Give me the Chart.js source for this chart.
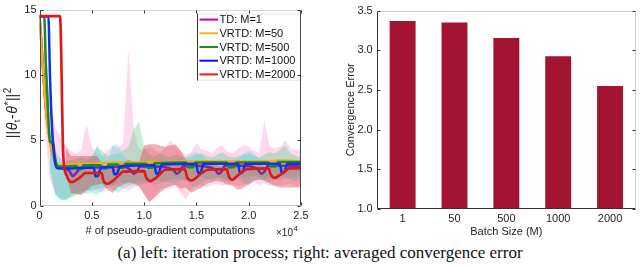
<!DOCTYPE html>
<html><head><meta charset="utf-8">
<script src="https://cdn.jsdelivr.net/npm/chart.js@4.4.1/dist/chart.umd.min.js"></script>
<style>
html,body{margin:0;padding:0;background:#fff;}
#wrap{position:relative;width:640px;height:267px;overflow:hidden;background:#fff;}
#c1{position:absolute;left:0;top:0;}
#c2{position:absolute;left:320px;top:0;}
#cap{position:absolute;left:0;top:243px;width:640px;text-align:center;font-family:'Liberation Serif','Times New Roman',serif;font-size:17px;line-height:19px;color:#111;white-space:nowrap;}
</style></head><body>
<div id="wrap">
<canvas id="c1" width="320" height="240"></canvas>
<canvas id="c2" width="320" height="240"></canvas>
<div id="cap">(a) left: iteration process; right: averaged convergence error</div>
</div>
<script>
// ================= DATA =================
// left panel: x in units of 10^4 pseudo-gradient computations
const xTickVals = [0, 0.5, 1, 1.5, 2, 2.5];
const yTickValsL = [0, 5, 10, 15];
const seriesLabels = ['TD: M=1', 'VRTD: M=50', 'VRTD: M=500', 'VRTD: M=1000', 'VRTD: M=2000'];

const tdX = [0, 0.03, 0.06, 0.1, 0.14, 0.18, 0.24, 0.29, 0.32, 0.35, 0.39, 0.45, 0.6, 0.8, 0.87, 0.9, 0.93, 0.96, 1.1, 1.28, 1.31, 1.34, 1.37, 1.5, 1.68, 1.71, 1.74, 1.77, 1.95, 2.09, 2.12, 2.15, 2.18, 2.5];
const tdY = [14.5, 11, 7.5, 5.0, 3.6, 3.0, 2.9, 2.6, 2.25, 2.5, 2.85, 2.9, 2.95, 3.0, 2.75, 2.45, 2.6, 3.0, 3.0, 2.75, 2.45, 2.6, 3.0, 3.05, 2.75, 2.45, 2.6, 3.05, 3.05, 2.75, 2.45, 2.6, 3.05, 3.05];

const m50X = [0, 0.02, 0.05, 0.08, 0.1, 0.13, 0.17, 0.22, 0.3, 0.5, 0.7, 0.9, 1.1, 1.3, 1.5, 1.7, 1.9, 2.1, 2.3, 2.5];
const m50Y = [14.5, 12, 8.5, 6, 4.8, 3.8, 3.1, 3.05, 3.15, 3.2, 3.3, 3.3, 3.35, 3.35, 3.4, 3.4, 3.4, 3.4, 3.45, 3.4];

const m500X = [0, 0.045, 0.06, 0.08, 0.1, 0.13, 0.15, 0.18, 0.25, 0.35, 0.37, 0.4, 0.42, 0.58, 0.6, 0.64, 0.66, 0.75, 0.77, 0.8, 0.82, 1.02, 1.04, 1.08, 1.1, 1.4, 1.42, 1.47, 1.49, 1.79, 1.81, 1.86, 1.88, 2.19, 2.21, 2.26, 2.28, 2.5];
const m500Y = [14.5, 14.5, 11, 7.5, 4.9, 4.8, 3.6, 3.0, 3.0, 3.05, 2.8, 2.8, 3.1, 3.1, 2.85, 2.85, 3.15, 3.15, 2.9, 2.9, 3.2, 3.2, 2.9, 2.9, 3.25, 3.3, 2.95, 2.95, 3.3, 3.3, 2.95, 2.95, 3.3, 3.3, 3.0, 3.0, 3.35, 3.35];

const m1000X = [0, 0.085, 0.1, 0.12, 0.14, 0.165, 0.2, 0.3, 0.45, 0.52, 0.535, 0.56, 0.59, 0.7, 0.715, 0.74, 0.77, 1.1, 1.115, 1.14, 1.17, 1.5, 1.515, 1.54, 1.57, 1.9, 1.915, 1.94, 1.97, 2.3, 2.315, 2.34, 2.37, 2.5];
const m1000Y = [14.5, 14.5, 10, 6, 3.8, 2.9, 2.85, 2.85, 2.9, 2.9, 2.25, 2.3, 2.95, 2.95, 2.4, 2.45, 3.0, 3.1, 2.45, 2.5, 3.15, 3.2, 2.5, 2.55, 3.2, 3.2, 2.5, 2.55, 3.2, 3.2, 2.5, 2.55, 3.2, 3.2];

const m2000X = [0, 0.196, 0.228, 0.26, 0.29, 0.31, 0.35, 0.4, 0.44, 0.595, 0.61, 0.65, 0.7, 0.75, 0.8, 1.0, 1.02, 1.06, 1.1, 1.15, 1.2, 1.39, 1.41, 1.455, 1.5, 1.55, 1.61, 1.79, 1.81, 1.84, 1.88, 1.93, 1.98, 2.19, 2.21, 2.25, 2.3, 2.35, 2.39, 2.5];
const m2000Y = [14.5, 14.5, 3.7, 2.3, 1.85, 1.8, 1.95, 2.25, 2.5, 2.5, 1.95, 1.68, 1.9, 2.25, 2.6, 2.65, 2.15, 1.88, 2.05, 2.4, 2.75, 2.8, 2.2, 1.93, 2.15, 2.5, 2.75, 2.8, 2.25, 1.98, 2.2, 2.55, 2.8, 2.85, 2.4, 2.13, 2.35, 2.65, 2.85, 2.85];

// shaded spread bands (sampled every 0.05 x 10^4)
const pinkStart = 0, midStart = 0.1, redStart = 0.25, bandStep = 0.05;
const pinkUpper = [14.5, 12, 8, 6, 5.2, 4.6, 4.2, 4.0, 4.3, 6.2, 4.5, 4.0, 3.8, 4.2, 4.6, 4.4, 4.8, 12.0, 6.0, 4.4, 4.2, 4.6, 4.3, 4.0, 4.4, 5.0, 4.5, 4.2, 3.9, 4.1, 4.8, 4.3, 4.2, 4.0, 4.5, 4.6, 4.1, 4.0, 4.4, 4.6, 4.5, 4.2, 4.0, 6.5, 4.5, 4.4, 4.5, 5.0, 4.4, 4.2, 4.3];
const pinkLower = [13, 6, 2.0, 0.9, 0.6, 0.5, 0.8, 1.0, 1.2, 1.0, 1.3, 1.2, 1.0, 1.4, 1.6, 1.5, 1.3, 1.2, 1.4, 1.5, 0.8, 0.2, 0.7, 1.2, 1.4, 1.3, 1.5, 1.0, 0.5, 1.2, 1.6, 1.5, 1.4, 1.6, 1.7, 1.5, 1.6, 1.7, 1.5, 1.6, 1.7, 1.8, 1.6, 1.7, 1.5, 1.6, 1.5, 1.6, 1.7, 1.5, 1.6];
const greenUpper = [6.0, 4.2, 3.6, 3.4, 3.5, 3.6, 3.7, 3.6, 3.8, 4.5, 4.2, 3.8, 3.9, 4.0, 4.2, 4.5, 5.8, 6.4, 4.5, 3.9, 3.8, 4.0, 3.8, 3.7, 3.9, 3.8, 3.6, 3.7, 3.9, 4.0, 3.8, 3.7, 3.9, 4.1, 3.8, 3.7, 3.8, 3.9, 4.0, 3.8, 3.7, 3.9, 4.1, 4.0, 4.3, 4.6, 4.0, 3.8, 3.7];
const greenLower = [3.0, 1.0, 0.5, 0.4, 0.6, 0.8, 1.0, 1.2, 1.1, 1.3, 1.4, 1.6, 1.5, 1.7, 1.8, 1.6, 1.7, 1.9, 1.8, 1.9, 2.0, 1.9, 1.8, 2.0, 2.1, 2.0, 1.9, 2.0, 2.1, 2.2, 2.0, 2.1, 2.2, 2.1, 2.0, 2.2, 2.3, 2.1, 2.2, 2.3, 2.2, 2.0, 2.1, 2.2, 2.3, 2.2, 2.1, 2.2, 2.3];
const cyanUpper = [5.0, 3.4, 3.2, 3.1, 3.2, 3.3, 3.2, 3.4, 3.6, 4.6, 3.8, 3.5, 4.6, 4.7, 3.8, 3.5, 3.4, 3.3, 3.5, 3.4, 3.3, 3.6, 3.5, 3.4, 3.5, 3.6, 3.7, 4.0, 4.1, 3.9, 3.5, 3.4, 3.6, 3.5, 3.4, 3.5, 3.6, 4.0, 4.2, 4.0, 3.6, 3.5, 3.4, 3.5, 3.6, 3.5, 3.4, 3.5, 3.4];
const cyanLower = [2.5, 0.8, 0.4, 0.5, 0.7, 0.9, 1.0, 0.9, 1.0, 0.8, 1.2, 1.4, 1.2, 1.0, 1.3, 1.5, 1.6, 1.5, 1.7, 1.8, 1.6, 1.7, 1.9, 1.8, 1.7, 1.9, 2.0, 1.5, 1.4, 1.8, 2.0, 1.9, 2.1, 2.0, 1.8, 1.9, 2.1, 1.8, 1.6, 1.9, 2.0, 1.9, 1.8, 2.0, 1.9, 2.1, 2.0, 1.9, 2.0];
const redUpper = [4.5, 3.8, 3.8, 3.8, 3.8, 3.8, 3.8, 3.2, 3.0, 3.0, 3.1, 3.3, 3.5, 3.4, 3.3, 4.6, 4.7, 4.7, 4.6, 4.5, 4.6, 4.7, 4.2, 3.5, 3.2, 3.3, 3.5, 3.4, 3.2, 3.1, 3.0, 3.0, 3.0, 3.2, 3.3, 3.3, 3.2, 3.2, 3.0, 2.9, 3.0, 3.1, 3.1, 3.0, 3.0, 3.0];
const redLower = [2.5, 1.0, 0.9, 0.8, 1.2, 1.5, 1.6, 1.7, 1.2, 1.0, 1.4, 1.6, 1.8, 1.7, 1.5, 0.9, 0.3, 0.6, 1.0, 1.3, 1.5, 1.6, 1.3, 1.4, 1.0, 1.2, 1.4, 1.7, 1.8, 1.9, 1.8, 1.6, 1.5, 1.2, 1.4, 1.6, 1.9, 2.0, 1.9, 1.7, 1.5, 1.4, 1.4, 1.4, 1.4, 1.4];

// right panel
const batchSizes = ['1', '50', '500', '1000', '2000'];
const convErr = [3.37, 3.35, 3.155, 2.925, 2.55];
const yTickValsR = [1, 1.5, 2, 2.5, 3, 3.5];

// ================= HELPERS =================
const pts = (xs, ys) => xs.map((x, i) => ({x: x, y: ys[i]}));
const gridPts = (start, ys) => ys.map((y, i) => ({x: +(start + i * bandStep).toFixed(3), y: y}));
const FONT = '"Liberation Sans", Arial, Helvetica, sans-serif';
const TXT = '#262626';

const framePlugin = {
  id: 'frame',
  afterDraw(chart, args, o) {
    const {ctx, chartArea: a, scales} = chart;
    const L = Math.round(a.left) + 0.5, R = Math.round(a.right) - 0.5, T = Math.round(a.top) + 0.5, B = Math.round(a.bottom) - 0.5;
    ctx.save();
    ctx.lineWidth = 1;
    const seg = (x1, y1, x2, y2, c) => { ctx.strokeStyle = c; ctx.beginPath(); ctx.moveTo(x1, y1); ctx.lineTo(x2, y2); ctx.stroke(); };
    seg(L, T, R, T, o.top); seg(L, B, R, B, o.bottom); seg(L, T, L, B, o.left); seg(R, T, R, B, o.right);
    const len = o.len;
    if (o.xTicks) {
      scales.x.ticks.forEach(t => {
        const p = Math.round(scales.x.getPixelForValue(t.value)) + 0.5;
        seg(p, B, p, B - len, o.tick); seg(p, T, p, T + len, o.tick);
      });
    }
    scales.y.ticks.forEach(t => {
      const p = Math.round(scales.y.getPixelForValue(t.value)) + 0.5;
      seg(L, p, L + len, p, o.tick); seg(R, p, R - len, p, o.tick);
    });
    if (o.exp) {
      ctx.fillStyle = TXT; ctx.textBaseline = 'alphabetic'; ctx.textAlign = 'left';
      ctx.font = '10px ' + FONT;
      const ex = a.right - 25, ey = a.bottom + 30;
      ctx.fillText('\u00d710', ex, ey);
      const w = ctx.measureText('\u00d710').width;
      ctx.font = '8px ' + FONT;
      ctx.fillText('4', ex + w + 0.5, ey - 5);
    }
    if (o.ylab) {
      // ||θ_t - θ^*||^2 drawn rotated, as real text with sub/superscripts
      const parts = [
        ['||', 14, 0, false], ['\u03b8', 14, 0, true], ['t', 9, 3, false], ['-', 14, 0, false],
        ['\u03b8', 14, 0, true], ['*', 10, -5, false], ['||', 14, 0, false], ['2', 10, -6, false]
      ];
      let total = 0;
      const widths = parts.map(p => { ctx.font = (p[3] ? 'italic ' : '') + p[1] + 'px ' + FONT; const w = ctx.measureText(p[0]).width + 0.6; total += w; return w; });
      ctx.translate(12, (a.top + a.bottom) / 2 + 5);
      ctx.rotate(-Math.PI / 2);
      ctx.fillStyle = TXT; ctx.textAlign = 'left'; ctx.textBaseline = 'alphabetic';
      let cx = -total / 2;
      parts.forEach((p, i) => {
        ctx.font = (p[3] ? 'italic ' : '') + p[1] + 'px ' + FONT;
        ctx.fillText(p[0], cx, 5 + p[2]);
        cx += widths[i];
      });
    }
    ctx.restore();
  }
};

const legendPlugin = {
  id: 'boxLegend',
  afterDatasetsDraw(chart, args, o) {
    if (!o.show) return;
    const {ctx, chartArea: a} = chart;
    const x0 = a.right - 104, y0 = a.top + 4, w = 104, h = 67;
    ctx.save();
    ctx.fillStyle = '#fff'; ctx.fillRect(x0, y0, w, h);
    ctx.strokeStyle = '#e4e4e4'; ctx.lineWidth = 1;
    ctx.strokeRect(x0 + 0.5, y0 + 0.5, w - 1, h - 1);
    ctx.strokeStyle = '#333';
    ctx.beginPath(); ctx.moveTo(x0 + 0.5, y0); ctx.lineTo(x0 + 0.5, y0 + h); ctx.stroke();
    ctx.font = '11px ' + FONT; ctx.textBaseline = 'middle'; ctx.textAlign = 'left';
    const items = chart.data.datasets.filter(d => d.legendColor);
    items.sort((p, q) => p.legendIndex - q.legendIndex);
    items.forEach((d, i) => {
      const y = y0 + 6 + 13.7 * i;
      ctx.strokeStyle = d.legendColor; ctx.lineWidth = 2;
      ctx.beginPath(); ctx.moveTo(x0 + 2.5, y); ctx.lineTo(x0 + 21, y); ctx.stroke();
      ctx.fillStyle = '#111';
      ctx.fillText(d.label, x0 + 22.5, y + 0.5);
    });
    ctx.restore();
  }
};

// ================= LEFT CHART =================
function lineDs(label, xs, ys, color, legendColor, order, idx, width) {
  return {label: label, data: pts(xs, ys), borderColor: color, borderWidth: width, pointRadius: 0,
    cubicInterpolationMode: 'monotone', fill: false, order: order, legendColor: legendColor, legendIndex: idx};
}
function bandDs(start, lower, upper, color, order) {
  return [
    {label: '', data: gridPts(start, lower), borderWidth: 0, pointRadius: 0, fill: false, order: order, tension: 0},
    {label: '', data: gridPts(start, upper), borderWidth: 0, pointRadius: 0, fill: '-1', backgroundColor: color, order: order, tension: 0}
  ];
}

const leftData = {datasets: [
  ...bandDs(pinkStart, pinkLower, pinkUpper, 'rgba(250,120,190,0.28)', 20),
  ...bandDs(midStart, greenLower, greenUpper, 'rgba(70,205,130,0.32)', 18),
  ...bandDs(midStart, cyanLower, cyanUpper, 'rgba(60,215,225,0.30)', 16),
  ...bandDs(redStart, redLower, redUpper, 'rgba(215,60,60,0.40)', 14),
  lineDs(seriesLabels[0], tdX, tdY, '#6f2f9f', '#c000c0', 5, 0, 2.5),
  lineDs(seriesLabels[1], m50X, m50Y, '#edb120', '#edb120', 4, 1, 2.5),
  lineDs(seriesLabels[2], m500X, m500Y, '#1f8a1f', '#1f8f1f', 3, 2, 2.5),
  lineDs(seriesLabels[3], m1000X, m1000Y, '#1030f0', '#0010ff', 2, 3, 2.5),
  lineDs(seriesLabels[4], m2000X, m2000Y, '#e01818', '#ff1010', 1, 4, 2.7)
]};

new Chart(document.getElementById('c1'), {
  type: 'line',
  data: leftData,
  options: {
    responsive: false, animation: false, devicePixelRatio: 1,
    layout: {padding: {left: 0, right: 19, top: 6, bottom: 0}},
    plugins: {
      legend: {display: false}, tooltip: {enabled: false},
      filler: {propagate: false},
      frame: {top: '#d8d8d8', bottom: '#c8c8c8', left: '#4a4a4a', right: '#4a4a4a', tick: '#333', len: 3, xTicks: true, exp: true, ylab: true},
      boxLegend: {show: true}
    },
    scales: {
      x: {
        type: 'linear', min: 0, max: 2.5,
        afterBuildTicks: s => { s.ticks = xTickVals.map(v => ({value: v})); },
        afterFit: s => { s.height = 34.3; },
        grid: {display: false, drawTicks: false}, border: {display: false},
        ticks: {padding: 3.4, color: TXT, font: {family: FONT, size: 11}, maxRotation: 0, autoSkip: false},
        title: {display: true, text: '# of pseudo-gradient computations', color: TXT, font: {family: FONT, size: 11}, padding: {top: 0, bottom: 2.4}}
      },
      y: {
        type: 'linear', min: 0, max: 15,
        afterBuildTicks: s => { s.ticks = yTickValsL.map(v => ({value: v})); },
        afterFit: s => { s.width = 39.5; },
        grid: {display: false, drawTicks: false}, border: {display: false},
        ticks: {padding: 3, color: TXT, font: {family: FONT, size: 11}},
        title: {display: false}
      }
    }
  },
  plugins: [framePlugin, legendPlugin]
});

// ================= RIGHT CHART =================
new Chart(document.getElementById('c2'), {
  type: 'bar',
  data: {labels: batchSizes, datasets: [{label: 'Convergence Error', data: convErr, backgroundColor: '#a2142f', borderWidth: 0, barPercentage: 0.5, categoryPercentage: 1.0}]},
  options: {
    responsive: false, animation: false, devicePixelRatio: 1,
    layout: {padding: {left: 0, right: 4, top: 5, bottom: 0}},
    plugins: {
      legend: {display: false}, tooltip: {enabled: false},
      frame: {top: '#cfcfcf', bottom: '#333', left: '#333', right: '#cfcfcf', tick: '#333', len: 3, xTicks: false, exp: false, ylab: false},
      boxLegend: {show: false}
    },
    scales: {
      x: {
        afterFit: s => { s.height = 31; },
        grid: {display: false, drawTicks: false}, border: {display: false},
        ticks: {padding: 3.7, color: TXT, font: {family: FONT, size: 11}},
        title: {display: true, text: 'Batch Size (M)', color: TXT, font: {family: FONT, size: 11}, padding: {top: 0, bottom: 1.1}}
      },
      y: {
        min: 1, max: 3.5,
        afterBuildTicks: s => { s.ticks = yTickValsR.map(v => ({value: v})); },
        afterFit: s => { s.width = 56.7; },
        grid: {display: false, drawTicks: false}, border: {display: false},
        ticks: {padding: 4, color: TXT, font: {family: FONT, size: 11}},
        title: {display: true, text: 'Convergence Error', color: TXT, font: {family: FONT, size: 11}, padding: {top: 24, bottom: 0}}
      }
    }
  },
  plugins: [framePlugin, legendPlugin]
});
</script>
</body></html>
